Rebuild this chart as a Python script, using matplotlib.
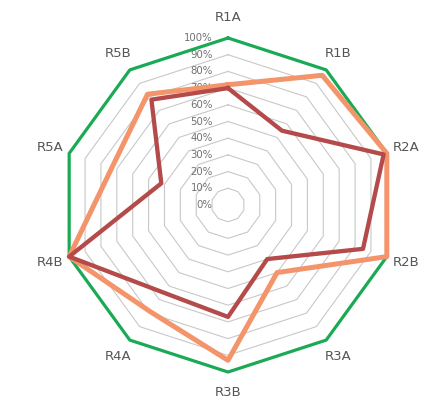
import numpy as np
import matplotlib
matplotlib.use('Agg')
import matplotlib.pyplot as plt

# 各区域得分（比例）
categories = ['R1A', 'R1B', 'R2A', 'R2B', 'R3A', 'R3B', 'R4A', 'R4B', 'R5A', 'R5B']
target = [1.0, 1.0, 1.0, 1.0, 1.0, 1.0, 1.0, 1.0, 1.0, 1.0]
series_a = [0.72, 0.96, 1.0, 1.0, 0.50, 0.93, 0.79, 1.0, 0.73, 0.82]
series_b = [0.70, 0.55, 0.98, 0.85, 0.40, 0.67, 0.65, 1.0, 0.42, 0.78]
tick_values = [0.0, 0.1, 0.2, 0.3, 0.4, 0.5, 0.6, 0.7, 0.8, 0.9, 1.0]
tick_labels = ['0%', '10%', '20%', '30%', '40%', '50%', '60%', '70%', '80%', '90%', '100%']

n = len(categories)
angles = np.linspace(0, 2 * np.pi, n, endpoint=False)
closed = np.append(angles, angles[0])


def close(vals):
    return np.append(vals, vals[0])


fig = plt.figure(figsize=(4.28, 4.03), dpi=100)
ax = fig.add_axes([0.1425, 0.0769, 0.7804, 0.8288], projection='polar')
ax.set_theta_offset(np.pi / 2)
ax.set_theta_direction(-1)
ax.set_ylim(0, 1.0)
ax.grid(False)
ax.spines['polar'].set_visible(False)
ax.set_xticks([])
ax.set_yticks([])

# 十边形网格
for v in tick_values[1:]:
    ax.plot(closed, [v] * (n + 1), color='#C8C8C8', lw=0.8, zorder=1, clip_on=False)

# 刻度文字
for v, lab in zip(tick_values, tick_labels):
    ax.annotate(lab, xy=(0, v), xytext=(-11, 0), textcoords='offset points',
                ha='right', va='center', fontsize=7.3, color='#707070', zorder=2)

ax.plot(closed, close(target), color='#1AAA55', lw=2.3, zorder=3, clip_on=False)
ax.plot(closed, close(series_a), color='#F4946A', lw=3.6, zorder=4, clip_on=False)
ax.plot(closed, close(series_b), color='#B44A4A', lw=3.1, zorder=5, clip_on=False)

# 类别标签
for ang, lab in zip(angles, categories):
    ax.text(ang, 1.12, lab, ha='center', va='center', fontsize=9.5,
            color='#555555')

fig.savefig('out.png', dpi=100, facecolor='white')
